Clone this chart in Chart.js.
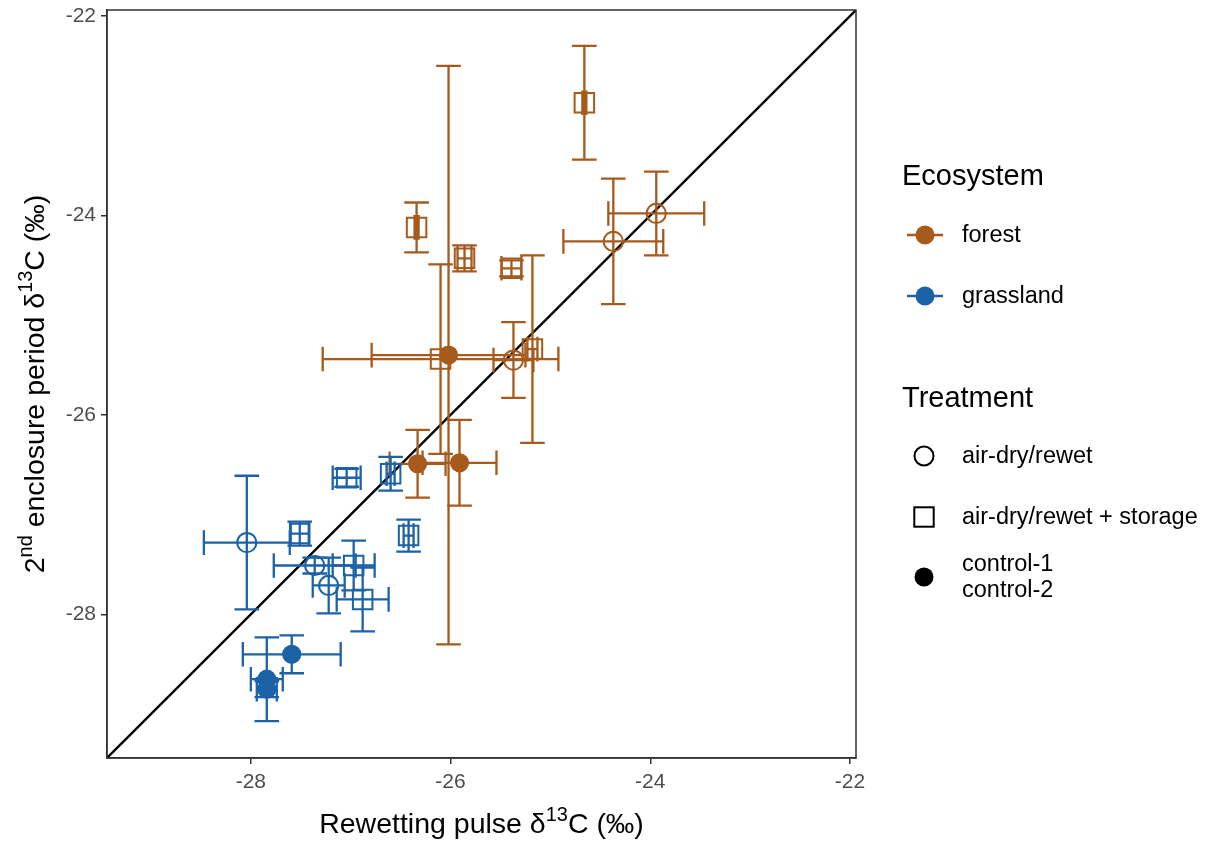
<!DOCTYPE html>
<html><head><meta charset="utf-8">
<script src="https://cdn.jsdelivr.net/npm/chart.js@4.4.0/dist/chart.umd.min.js"></script>
<style>html,body{margin:0;padding:0;background:#fff}#wrap{width:1207px;height:844px;position:relative}</style>
</head><body><div id="wrap"><canvas id="c"></canvas></div>
<script>
// ---- data ----
const pointEcosystem = ['forest','forest','forest','forest','forest','forest','forest','forest','forest','forest','forest','forest',
  'grassland','grassland','grassland','grassland','grassland','grassland','grassland','grassland','grassland','grassland','grassland','grassland'];
const pointTreatment = ['air-dry/rewet','air-dry/rewet','air-dry/rewet',
  'air-dry/rewet + storage','air-dry/rewet + storage','air-dry/rewet + storage','air-dry/rewet + storage','air-dry/rewet + storage','air-dry/rewet + storage',
  'control-1','control-1','control-2',
  'air-dry/rewet','air-dry/rewet','air-dry/rewet',
  'air-dry/rewet + storage','air-dry/rewet + storage','air-dry/rewet + storage','air-dry/rewet + storage','air-dry/rewet + storage','air-dry/rewet + storage',
  'control-1','control-1','control-2'];
const pulseMean = [-23.94,-24.37,-25.37, -24.66,-26.34,-25.86,-25.39,-26.10,-25.18, -26.02,-26.33,-25.91,
  -28.04,-27.36,-27.22, -27.51,-27.04,-26.60,-26.42,-26.97,-26.88, -27.59,-27.84,-27.84];
const pulseSd = [0.48,0.50,0.20, 0.02,0.02,0.07,0.10,1.18,0.05, 0.77,0.28,0.37,
  0.43,0.41,0.16, 0.09,0.14,0.04,0.05,0.21,0.26, 0.49,0.16,0.10];
const enclosureMean = [-23.98,-24.26,-25.45, -22.87,-24.12,-24.43,-24.53,-25.44,-25.34, -25.40,-26.49,-26.48,
  -27.28,-27.51,-27.71, -27.19,-26.63,-26.59,-27.21,-27.51,-27.85, -28.40,-28.65,-28.75];
const enclosureSd = [0.42,0.63,0.38, 0.57,0.25,0.13,0.08,0.95,0.94, 2.90,0.34,0.43,
  0.67,0.08,0.28, 0.12,0.09,0.17,0.16,0.25,0.32, 0.19,0.42,0.08];
const xAxisRange = [-29.44, -21.94];
const yAxisRange = [-29.44, -21.94];
const tickValues = [-28, -26, -24, -22];
const tickLabels = ['-28', '-26', '-24', '-22'];
const ecosystemNames = ['forest', 'grassland'];
const treatmentGroups = ['air-dry/rewet', 'air-dry/rewet + storage', 'control'];
const legendTreatmentLabels = [['air-dry/rewet'], ['air-dry/rewet + storage'], ['control-1', 'control-2']];

// ---- styling ----
const FAM = "'Liberation Sans', Arial, Helvetica, sans-serif";
const ecoColor = { forest: '#a65a1c', grassland: '#1c62a6' };
const groupOf = t => t.startsWith('control') ? 'control' : t;
const shapeStyle = {
  'air-dry/rewet': { pointStyle: 'circle', radius: 9.6, filled: false },
  'air-dry/rewet + storage': { pointStyle: 'rect', radius: 13.8, filled: false },
  'control': { pointStyle: 'circle', radius: 9.6, filled: true }
};
const AREA = { left: 107, top: 10, right: 856, bottom: 758 };

const diagLo = Math.min(xAxisRange[0], yAxisRange[0]) - 0.5;
const diagHi = Math.max(xAxisRange[1], yAxisRange[1]) + 0.5;
const datasets = [];
datasets.push({
  type: 'line', label: 'y = x', order: 10,
  data: [{ x: diagLo, y: diagLo }, { x: diagHi, y: diagHi }],
  borderColor: '#000', borderWidth: 2.3, pointRadius: 0, fill: false
});
ecosystemNames.forEach(eco => {
  treatmentGroups.forEach(g => {
    const data = [];
    pointEcosystem.forEach((e, i) => {
      if (e === eco && groupOf(pointTreatment[i]) === g) {
        data.push({ x: pulseMean[i], y: enclosureMean[i], xerr: pulseSd[i], yerr: enclosureSd[i] });
      }
    });
    const st = shapeStyle[g];
    datasets.push({
      type: 'scatter', label: eco + ' ' + g, order: 0, errorBars: true,
      data,
      pointStyle: st.pointStyle, pointRadius: st.radius, pointHoverRadius: st.radius,
      backgroundColor: st.filled ? ecoColor[eco] : 'rgba(0,0,0,0)',
      borderColor: ecoColor[eco], borderWidth: st.filled ? 0 : 2,
      pointBorderWidth: st.filled ? 0 : 2
    });
  });
});

const errorBarPlugin = {
  id: 'errorBars',
  afterDatasetDraw(chart, args) {
    if (args.index !== 0) return;
    const ctx = chart.ctx, xs = chart.scales.x, ys = chart.scales.y;
    const cap = 12.3;
    ctx.save();
    ctx.lineWidth = 2.3;
    ctx.lineCap = 'butt';
    chart.data.datasets.forEach(ds => {
      if (!ds.errorBars) return;
      ctx.strokeStyle = ds.borderColor;
      ds.data.forEach(d => {
        const px = xs.getPixelForValue(d.x), py = ys.getPixelForValue(d.y);
        const y0 = ys.getPixelForValue(d.y - d.yerr), y1 = ys.getPixelForValue(d.y + d.yerr);
        const x0 = xs.getPixelForValue(d.x - d.xerr), x1 = xs.getPixelForValue(d.x + d.xerr);
        ctx.beginPath();
        ctx.moveTo(px, y0); ctx.lineTo(px, y1);
        ctx.moveTo(px - cap, y0); ctx.lineTo(px + cap, y0);
        ctx.moveTo(px - cap, y1); ctx.lineTo(px + cap, y1);
        ctx.moveTo(x0, py); ctx.lineTo(x1, py);
        ctx.moveTo(x0, py - cap); ctx.lineTo(x0, py + cap);
        ctx.moveTo(x1, py - cap); ctx.lineTo(x1, py + cap);
        ctx.stroke();
      });
    });
    ctx.restore();
  }
};

function measureParts(ctx, parts, size) {
  let w = 0;
  parts.forEach(p => { ctx.font = (p[1] ? size * 0.7 : size) + 'px ' + FAM; w += ctx.measureText(p[0]).width; });
  return w;
}
function renderParts(ctx, parts, size, x, y) {
  let cx = x;
  parts.forEach(p => {
    ctx.font = (p[1] ? size * 0.7 : size) + 'px ' + FAM;
    ctx.fillText(p[0], cx, p[1] ? y - size * 0.42 : y);
    cx += ctx.measureText(p[0]).width;
  });
}

const decorPlugin = {
  id: 'decor',
  afterDraw(chart) {
    const ctx = chart.ctx, a = chart.chartArea;
    ctx.save();
    ctx.strokeStyle = '#333'; ctx.lineWidth = 1.5;
    ctx.strokeRect(a.left, a.top, a.right - a.left, a.bottom - a.top);
    ctx.fillStyle = '#000'; ctx.textBaseline = 'alphabetic'; ctx.textAlign = 'left';
    const tsize = 28.5;
    const xParts = [['Rewetting pulse \u03B4', false], ['13', true], ['C (\u2030)', false]];
    const xw = measureParts(ctx, xParts, tsize);
    renderParts(ctx, xParts, tsize, (a.left + a.right) / 2 - xw / 2, 833);
    const yParts = [['2', false], ['nd', true], [' enclosure period \u03B4', false], ['13', true], ['C (\u2030)', false]];
    const yw = measureParts(ctx, yParts, tsize);
    ctx.save();
    ctx.translate(44, (a.top + a.bottom) / 2);
    ctx.rotate(-Math.PI / 2);
    renderParts(ctx, yParts, tsize, -yw / 2, 0);
    ctx.restore();
    // legend
    ctx.textBaseline = 'middle';
    ctx.font = '29px ' + FAM;
    ctx.fillText('Ecosystem', 902, 177);
    ctx.font = '23.5px ' + FAM;
    const ecoY = [235, 296];
    ecosystemNames.forEach((eco, i) => {
      const y = ecoY[i];
      ctx.strokeStyle = ecoColor[eco]; ctx.lineWidth = 2.3;
      ctx.beginPath(); ctx.moveTo(907, y); ctx.lineTo(943, y); ctx.stroke();
      ctx.fillStyle = ecoColor[eco];
      ctx.beginPath(); ctx.arc(925, y, 9.5, 0, Math.PI * 2); ctx.fill();
      ctx.fillStyle = '#000';
      ctx.fillText(eco, 962, y + 1);
    });
    ctx.font = '29px ' + FAM;
    ctx.fillText('Treatment', 902, 399);
    ctx.font = '23.5px ' + FAM;
    const trY = [456, 517, 577];
    treatmentGroups.forEach((g, i) => {
      const y = trY[i];
      const st = shapeStyle[g];
      ctx.strokeStyle = '#000'; ctx.fillStyle = '#000'; ctx.lineWidth = 2;
      if (g === 'air-dry/rewet + storage') {
        ctx.strokeRect(924 - 9.7, y - 9.7, 19.4, 19.4);
      } else {
        ctx.beginPath(); ctx.arc(924, y, 9.5, 0, Math.PI * 2);
        if (st.filled) ctx.fill(); else ctx.stroke();
      }
      const lines = legendTreatmentLabels[i];
      if (lines.length === 1) {
        ctx.fillText(lines[0], 962, y + 1);
      } else {
        ctx.fillText(lines[0], 962, y - 12);
        ctx.fillText(lines[1], 962, y + 14);
      }
    });
    ctx.restore();
  }
};

function axisCfg(isX) {
  const r = isX ? xAxisRange : yAxisRange;
  return {
    type: 'linear', min: r[0], max: r[1],
    afterBuildTicks: s => { s.ticks = tickValues.map(v => ({ value: v })); },
    ticks: {
      autoSkip: false, maxRotation: 0, color: '#4d4d4d', padding: isX ? 6 : 5,
      font: { family: FAM, size: 21 },
      callback: (v) => tickLabels[tickValues.indexOf(v)]
    },
    grid: { display: true, drawOnChartArea: false, drawTicks: true, tickLength: 6, color: '#333', lineWidth: 1.5 },
    border: { display: true, color: '#333', width: 1.5 },
    afterFit: s => {
      if (isX) s.height = 86; else s.width = 107;
      s.paddingTop = 0; s.paddingBottom = 0; s.paddingLeft = 0; s.paddingRight = 0;
    }
  };
}

const pad = { left: 0, top: 10, right: 351, bottom: 0 };
const chart = new Chart(document.getElementById('c'), {
  type: 'scatter',
  data: { datasets },
  options: {
    responsive: true, maintainAspectRatio: false, animation: false,
    layout: { padding: Object.assign({}, pad), autoPadding: false },
    plugins: { legend: { display: false }, tooltip: { enabled: false } },
    scales: { x: axisCfg(true), y: axisCfg(false) }
  },
  plugins: [errorBarPlugin, decorPlugin]
});
// safety: nudge layout so the plotting panel sits where the reference has it
for (let k = 0; k < 2; k++) {
  const ca = chart.chartArea;
  pad.top += AREA.top - ca.top;
  pad.left += AREA.left - ca.left;
  pad.right += ca.right - AREA.right;
  pad.bottom += ca.bottom - AREA.bottom;
  chart.config.options.layout.padding = Object.assign({}, pad);
  chart.update();
}
</script>
</body></html>
